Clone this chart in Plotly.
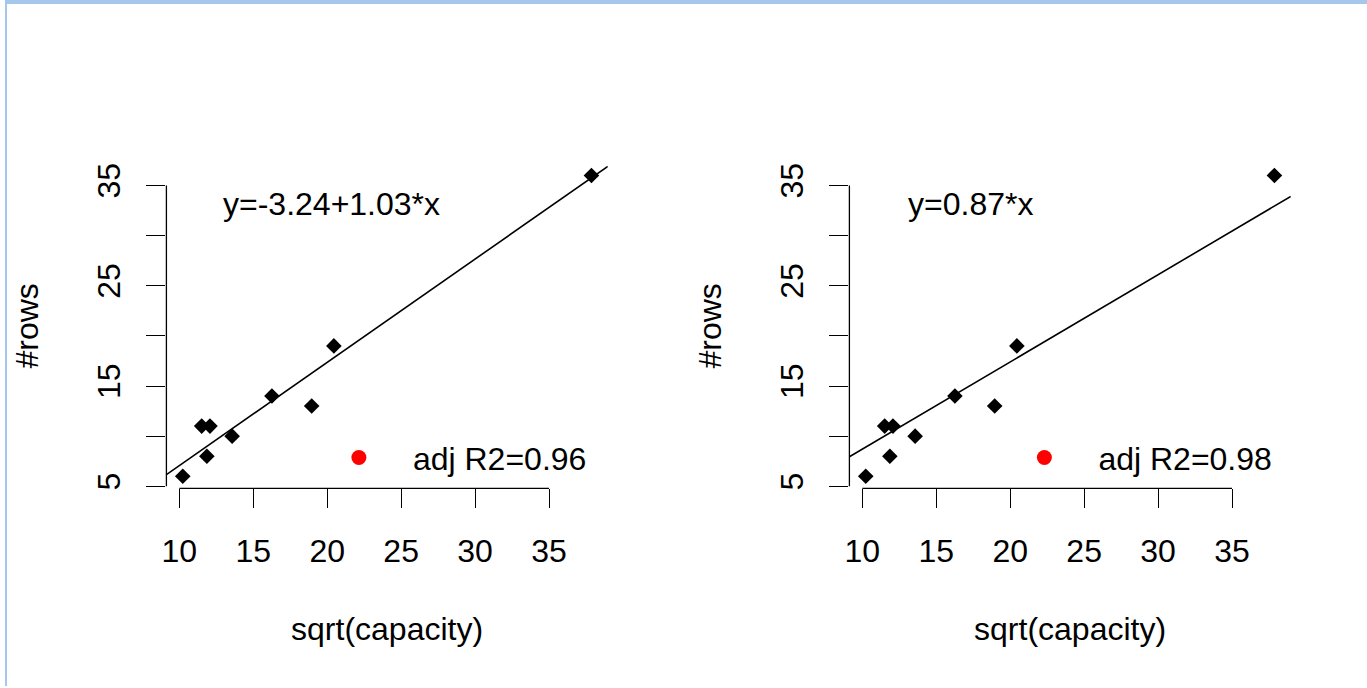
import plotly.graph_objects as go

# ---- data ----
sqrt_capacity = [10.23, 11.51, 12.07, 11.86, 13.57, 16.26, 18.95, 20.45, 37.87]
n_rows = [6, 11, 11, 8, 10, 14, 13, 19, 36]
fit_intercepts = [-3.24, 0.0]
fit_slopes = [1.03, 0.87]
fit_labels = ["y=-3.24+1.03*x", "y=0.87*x"]
r2_labels = ["adj R2=0.96", "adj R2=0.98"]
x_ticks = [10, 15, 20, 25, 30, 35]
y_ticks = [5, 10, 15, 20, 25, 30, 35]
y_ticktext = ["5", "", "15", "", "25", "", "35"]
x_title = "sqrt(capacity)"
y_title = "#rows"

W, H = 1367, 688
FONT = "Liberation Sans, Arial, sans-serif"
FS = 32


def pad_range(v):
    lo, hi = min(v), max(v)
    d = (hi - lo) * 0.04
    return [lo - d, hi + d]


xr = pad_range(sqrt_capacity)
yr = pad_range(n_rows)

x_domains = [[162 / W, 605 / W], [847.5 / W, 1290.5 / W]]
y_domain = [198.3 / H, 524.1 / H]

fig = go.Figure()
shapes = []
annotations = []
for i in range(2):
    sfx = "" if i == 0 else str(i + 1)
    xa, ya = "x" + sfx, "y" + sfx
    fig.add_trace(go.Scatter(
        x=sqrt_capacity, y=n_rows, mode="markers", xaxis=xa, yaxis=ya,
        marker=dict(symbol="diamond", size=12, color="black"),
        showlegend=False, hoverinfo="skip"))
    fx = [xr[0], xr[1]]
    fy = [fit_intercepts[i] + fit_slopes[i] * v for v in fx]
    fig.add_trace(go.Scatter(
        x=fx, y=fy, mode="lines", xaxis=xa, yaxis=ya,
        line=dict(color="black", width=1.6), showlegend=False,
        hoverinfo="skip"))
    # legend entry (red dot key)
    fig.add_trace(go.Scatter(
        x=[None], y=[None], mode="markers", xaxis=xa, yaxis=ya,
        marker=dict(symbol="circle", size=15, color="red"),
        name=r2_labels[i], legend="legend" + sfx, showlegend=True))

    axis_common = dict(
        showgrid=False, zeroline=False, showline=False,
        ticks="outside", ticklen=19, tickwidth=1.3, tickcolor="black",
        tickfont=dict(family=FONT, size=FS, color="black"),
        title_font=dict(family=FONT, size=FS, color="black"),
    )
    fig.layout["xaxis" + sfx] = dict(
        axis_common, domain=x_domains[i], range=xr, anchor=ya,
        tickvals=x_ticks, ticklabelstandoff=15,
        title=dict(text=x_title, standoff=49))
    fig.layout["yaxis" + sfx] = dict(
        axis_common, domain=y_domain, range=yr, anchor=xa,
        tickvals=y_ticks, ticktext=y_ticktext, tickangle=-90,
        ticklabelstandoff=14,
        title=dict(text=y_title, standoff=42))

    # R-style axis lines spanning only the tick range
    shapes.append(dict(type="line", xref=xa, yref=ya + " domain",
                       x0=x_ticks[0], x1=x_ticks[-1], y0=0, y1=0,
                       line=dict(color="black", width=1.3)))
    shapes.append(dict(type="line", xref=xa + " domain", yref=ya,
                       x0=0, x1=0, y0=y_ticks[0], y1=y_ticks[-1],
                       line=dict(color="black", width=1.3)))

    ann_x = [20.3, 17.3][i]
    annotations.append(dict(
        x=ann_x, y=33.2, xref=xa, yref=ya, text=fit_labels[i],
        showarrow=False, xanchor="center", yanchor="middle",
        font=dict(family=FONT, size=FS, color="black")))

# window frame (light blue border)
shapes.append(dict(type="rect", xref="paper", yref="paper", x0=0, x1=1,
                   y0=1 - 4 / H, y1=1, fillcolor="#A4C7EB", line=dict(width=0)))
shapes.append(dict(type="rect", xref="paper", yref="paper", x0=0, x1=2 / W,
                   y0=0, y1=1, fillcolor="#A4C7EB", line=dict(width=0)))

leg_common = dict(
    xref="paper", yref="paper", yanchor="middle", xanchor="left",
    bgcolor="rgba(0,0,0,0)", borderwidth=0, itemwidth=98,
    font=dict(family=FONT, size=FS, color="black"), y=(H - 459) / H)

fig.update_layout(
    width=W, height=H, autosize=False,
    margin=dict(l=0, r=0, t=0, b=0),
    paper_bgcolor="white", plot_bgcolor="white",
    shapes=shapes, annotations=annotations,
    legend=dict(leg_common, x=(355 - 54) / W),
    legend2=dict(leg_common, x=(1043 - 54) / W),
)

fig.write_html(
    "out.html",
    config={"displayModeBar": False},
    post_script="document.body.style.margin='0px';"
                "document.body.style.overflow='hidden';")
